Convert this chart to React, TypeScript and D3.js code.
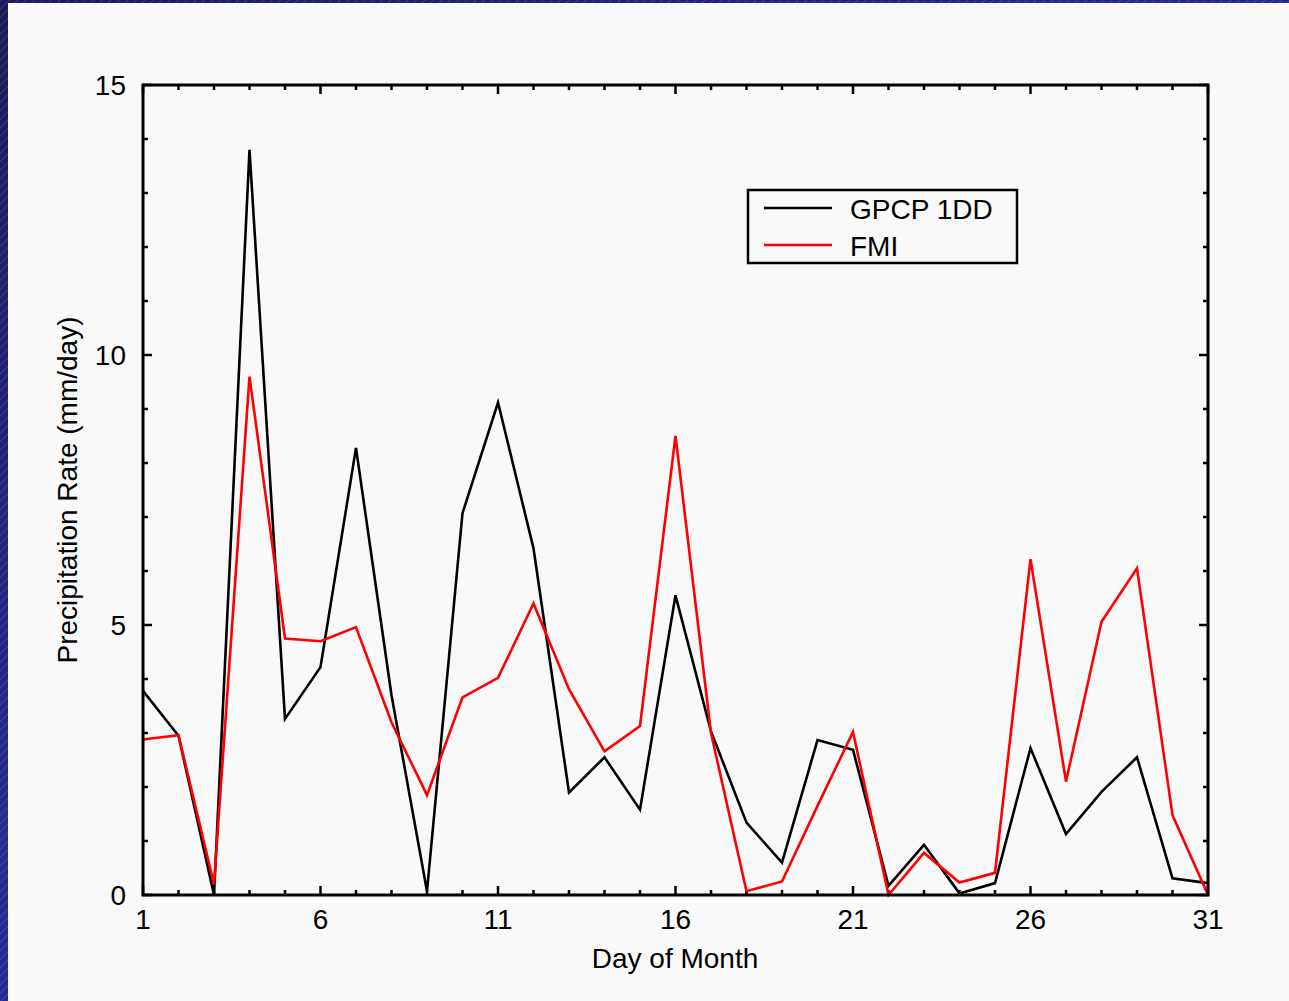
import { useMemo } from 'react'
import * as d3 from 'd3'

const days = d3.range(1, 32)
const gpcp = [3.78, 2.95, 0, 13.8, 3.26, 4.22, 8.28, 3.7, 0.07, 7.07, 9.12, 6.42, 1.9, 2.55, 1.58, 5.55, 3.03, 1.34, 0.6, 2.87, 2.69, 0.17, 0.93, 0.03, 0.22, 2.72, 1.13, 1.91, 2.55, 0.31, 0.22]
const fmi = [2.88, 2.96, 0.2, 9.6, 4.75, 4.7, 4.96, 3.2, 1.85, 3.66, 4.02, 5.4, 3.81, 2.66, 3.13, 8.5, 3.0, 0.07, 0.25, 1.65, 3.02, 0, 0.78, 0.23, 0.41, 6.22, 2.1, 5.06, 6.05, 1.48, 0]
const xTickLabels = [1, 6, 11, 16, 21, 26, 31]
const yTickLabels = [0, 5, 10, 15]
const seriesNames = ['GPCP 1DD', 'FMI']
const seriesColors = ['#000000', '#ff0000']

const W = 1289
const H = 1001
const plot = { left: 143, right: 1208, top: 85, bottom: 895 }
const font = '"Liberation Sans", Arial, Helvetica, sans-serif'

export default function App() {
  const x = useMemo(() => d3.scaleLinear().domain([1, 31]).range([plot.left, plot.right]), [])
  const y = useMemo(() => d3.scaleLinear().domain([0, 15]).range([plot.bottom, plot.top]), [])

  const line = d3.line<number>().x((_, i) => x(days[i])).y(d => y(d))

  const xMinor = d3.range(1, 32)
  const yMinor = d3.range(0, 16)

  return (
    <svg width={W} height={H} style={{ position: 'absolute', left: 0, top: 0, display: 'block' }}>
      <defs>
        <linearGradient id="bg" x1="0" y1="0" x2="1" y2="1">
          <stop offset="0" stopColor="#1b1b5c" />
          <stop offset="1" stopColor="#3838d2" />
        </linearGradient>
        <pattern id="hatch" width="6" height="6" patternUnits="userSpaceOnUse" patternTransform="rotate(45)">
          <line x1="0" y1="0" x2="0" y2="6" stroke="#ffffff" strokeOpacity="0.25" strokeWidth="1" />
        </pattern>
      </defs>
      <rect x={0} y={0} width={W} height={H} fill="url(#bg)" />
      <rect x={0} y={0} width={W} height={H} fill="url(#hatch)" />
      <rect x={8} y={3} width={W - 8} height={H - 3} fill="#f9f9f9" />

      {/* ticks */}
      <g stroke="#000" strokeWidth={2.5}>
        {xMinor.map(d => {
          const len = (d - 1) % 5 === 0 ? 9 : 5
          return (
            <g key={'x' + d}>
              <line x1={x(d)} x2={x(d)} y1={plot.bottom} y2={plot.bottom - len} />
              <line x1={x(d)} x2={x(d)} y1={plot.top} y2={plot.top + len} />
            </g>
          )
        })}
        {yMinor.map(v => {
          const len = v % 5 === 0 ? 9 : 5
          return (
            <g key={'y' + v}>
              <line x1={plot.left} x2={plot.left + len} y1={y(v)} y2={y(v)} />
              <line x1={plot.right} x2={plot.right - len} y1={y(v)} y2={y(v)} />
            </g>
          )
        })}
      </g>

      {/* data */}
      <path d={line(gpcp) || ''} fill="none" stroke={seriesColors[0]} strokeWidth={2.6} strokeLinejoin="miter" />
      <path d={line(fmi) || ''} fill="none" stroke={seriesColors[1]} strokeWidth={2.6} strokeLinejoin="miter" />

      {/* frame */}
      <rect x={plot.left} y={plot.top} width={plot.right - plot.left} height={plot.bottom - plot.top}
        fill="none" stroke="#000" strokeWidth={3} />

      {/* tick labels */}
      <g fontFamily={font} fontSize={28} fill="#000">
        {xTickLabels.map(d => (
          <text key={'xl' + d} x={x(d)} y={929} textAnchor="middle">{d}</text>
        ))}
        {yTickLabels.map(v => (
          <text key={'yl' + v} x={126} y={y(v) + 10} textAnchor="end">{v}</text>
        ))}
        <text x={675} y={968} textAnchor="middle">Day of Month</text>
        <text transform="translate(77,490) rotate(-90)" textAnchor="middle">Precipitation Rate (mm/day)</text>
      </g>

      {/* legend */}
      <g>
        <rect x={748} y={190} width={269} height={73} fill="#f9f9f9" stroke="#000" strokeWidth={2.5} />
        {seriesNames.map((name, i) => (
          <g key={name}>
            <line x1={764} x2={832} y1={208 + i * 37} y2={208 + i * 37} stroke={seriesColors[i]} strokeWidth={2.6} />
            <text x={850} y={219 + i * 37} fontFamily={font} fontSize={28} fill="#000">{name}</text>
          </g>
        ))}
      </g>
    </svg>
  )
}
